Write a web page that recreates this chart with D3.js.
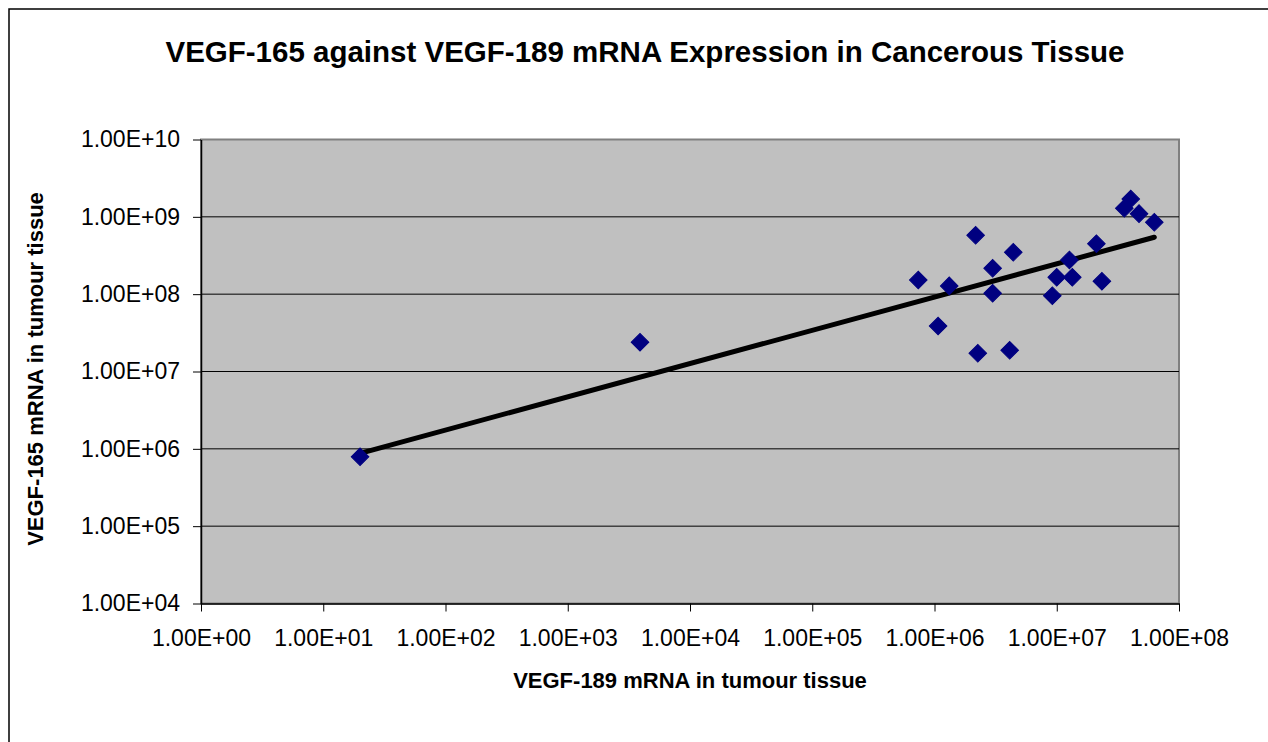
<!DOCTYPE html>
<html>
<head>
<meta charset="utf-8">
<script src="https://cdn.jsdelivr.net/npm/d3@7"></script>
<style>
  html, body { margin: 0; padding: 0; background: #fff; }
  svg { display: block; font-family: "Liberation Sans", Arial, sans-serif; }
</style>
</head>
<body>
<svg id="chart" width="1268" height="742"></svg>
<script>
// ---- data ----
const vegf189 = [20, 3.9e3, 7.37e5, 1.32e6, 1.07e6, 2.17e6, 2.99e6, 2.99e6, 2.26e6, 4.41e6, 4.12e6,
                 9.2e6, 1.0e7, 1.27e7, 1.34e7, 2.11e7, 2.34e7, 3.57e7, 4.03e7, 4.71e7, 6.28e7];
const vegf165 = [7.9e5, 2.39e7, 1.52e8, 1.28e8, 3.88e7, 5.77e8, 2.16e8, 1.03e8, 1.72e7, 3.48e8, 1.88e7,
                 9.55e7, 1.65e8, 2.77e8, 1.65e8, 4.5e8, 1.47e8, 1.29e9, 1.70e9, 1.10e9, 8.5e8];
const trendX = [20, 6.28e7];
const trendY = [8.75e5, 5.44e8];
const xTicks = [1e0, 1e1, 1e2, 1e3, 1e4, 1e5, 1e6, 1e7, 1e8];
const yTicks = [1e4, 1e5, 1e6, 1e7, 1e8, 1e9, 1e10];
const titleText = "VEGF-165 against VEGF-189 mRNA Expression in Cancerous Tissue";
const xTitle = "VEGF-189 mRNA in tumour tissue";
const yTitle = "VEGF-165 mRNA in tumour tissue";

// ---- layout ----
const svg = d3.select("#chart");
const L = 201, R = 1179, T = 139.5, B = 603.5;

const x = d3.scaleLog().domain([1e0, 1e8]).range([L, R]);
const y = d3.scaleLog().domain([1e4, 1e10]).range([B, T]);

function sci(v) {
  const e = Math.round(Math.log10(v));
  const s = e < 0 ? "-" : "+";
  return "1.00E" + s + String(Math.abs(e)).padStart(2, "0");
}

// outer frame
svg.append("rect")
  .attr("x", 9).attr("y", 9).attr("width", 1400).attr("height", 900)
  .attr("fill", "#fff").attr("stroke", "#000").attr("stroke-width", 1.5);

// plot area
svg.append("rect")
  .attr("x", L).attr("y", T).attr("width", R - L).attr("height", B - T)
  .attr("fill", "#C0C0C0").attr("stroke", "#808080").attr("stroke-width", 2);

// gridlines
svg.append("g").selectAll("line")
  .data(yTicks.filter(d => d > 1e4 && d < 1e10))
  .join("line")
  .attr("x1", L).attr("x2", R)
  .attr("y1", d => y(d)).attr("y2", d => y(d))
  .attr("stroke", "#000").attr("stroke-width", 1);

// axes
const xAxis = d3.axisBottom(x).tickValues(xTicks).tickFormat(sci).tickSizeOuter(0).tickSizeInner(8).tickPadding(18);
const yAxis = d3.axisLeft(y).tickValues(yTicks).tickFormat(sci).tickSizeOuter(0).tickSizeInner(8).tickPadding(13);

const gx = svg.append("g").attr("transform", `translate(0,${B})`).call(xAxis);
const gy = svg.append("g").attr("transform", `translate(${L},0)`).call(yAxis);
[gx, gy].forEach(g => {
  g.selectAll("path.domain").attr("stroke", "#000").attr("stroke-width", 1.5);
  g.selectAll(".tick line").attr("stroke", "#000").attr("stroke-width", 1);
  g.selectAll(".tick text")
    .attr("font-family", "'Liberation Sans', Arial, sans-serif")
    .attr("font-size", 23).attr("fill", "#000");
});
gx.selectAll(".tick text").attr("dy", "0.71em");

// trend line
svg.append("line")
  .attr("x1", x(trendX[0])).attr("y1", y(trendY[0]))
  .attr("x2", x(trendX[1])).attr("y2", y(trendY[1]))
  .attr("stroke", "#000").attr("stroke-width", 5).attr("stroke-linecap", "round");

// markers
const pts = vegf189.map((v, i) => ({ x: v, y: vegf165[i] }));
const sym = d3.symbol().type(d3.symbolSquare).size(155);
svg.append("g").selectAll("path")
  .data(pts)
  .join("path")
  .attr("d", sym)
  .attr("transform", d => `translate(${x(d.x)},${y(d.y)}) rotate(45)`)
  .attr("fill", "#000080").attr("stroke", "#000080").attr("stroke-width", 1);

// titles
svg.append("text")
  .attr("x", 645).attr("y", 62).attr("text-anchor", "middle")
  .attr("font-size", 29.5).attr("font-weight", "bold").text(titleText);

svg.append("text")
  .attr("x", 690).attr("y", 688).attr("text-anchor", "middle")
  .attr("font-size", 22).attr("font-weight", "bold").text(xTitle);

svg.append("text")
  .attr("transform", "translate(43,369) rotate(-90)").attr("text-anchor", "middle")
  .attr("font-size", 22).attr("font-weight", "bold").text(yTitle);
</script>
</body>
</html>
